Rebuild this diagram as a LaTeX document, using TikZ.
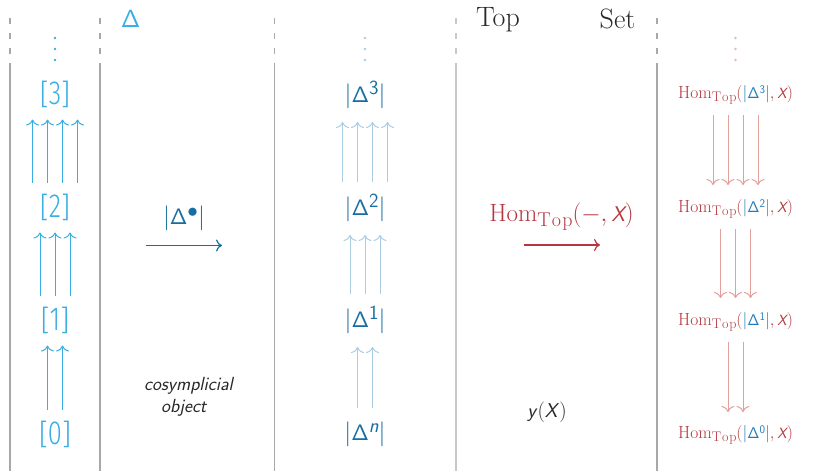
\documentclass[tikz,border=0pt]{standalone}
\usepackage{fontspec}
\usepackage{graphicx}
\usetikzlibrary{arrows.meta}

\newfontfamily\lsf{Fira Sans Light}

\definecolor{skyc}{RGB}{58,173,227}
\definecolor{deepb}{RGB}{24,110,160}
\definecolor{medb}{RGB}{36,125,185}
\definecolor{paleb}{RGB}{170,205,228}
\definecolor{homred}{RGB}{181,55,62}
\definecolor{palered}{RGB}{226,160,154}
\definecolor{dotred}{RGB}{234,182,172}
\definecolor{rulegray}{RGB}{168,168,168}
\definecolor{rulelight}{RGB}{200,200,200}
\definecolor{ink}{RGB}{40,40,40}

% sans capital Delta (Computer Modern Sans, OT1 slot 1)
\newcommand\sfDelta{{\fontencoding{OT1}\fontfamily{cmss}\selectfont\char1}}
% raised index
\newcommand\sups[1]{\raisebox{0.27em}{\scalebox{0.67}{\sffamily #1}}}
% |Delta^k|
\newcommand\absD[1]{$|$\scalebox{0.9}{\sfDelta}\sups{#1}$|$}
% [k]
\newcommand\objn[1]{{\lsf[}\scalebox{0.88}[1.15]{\lsf #1}{\lsf]}}
% Hom_Top( #1 , X )
\newcommand\homof[1]{{\rmfamily Hom}\raisebox{-0.19em}{\scalebox{0.8}{\rmfamily T\kern.06em o\kern.06em p}}$($#1$,$\,\scalebox{0.85}{\sffamily\itshape X}$)$}

\begin{document}
\begin{tikzpicture}[x=1pt,y=-1pt,
  obj/.style={inner sep=0pt, text=skyc, font=\fontsize{29}{29}\selectfont},
  real/.style={inner sep=0pt, text=deepb, font=\fontsize{30}{30}\selectfont},
  hom/.style={inner sep=0pt, text=homred, font=\fontsize{17.5}{17.5}\selectfont},
  plain/.style={inner sep=0pt, text=ink},
  face/.style={line width=1pt, -{Computer Modern Rightarrow[length=6pt,width=13pt]}},
  functor/.style={line width=1.2pt, -{Computer Modern Rightarrow[length=6pt,width=12pt]}},
  rulestyle/.style={line width=1.3pt}]
\useasboundingbox (0,0) rectangle (813,471);

% column separators: dashed head, solid body
\foreach \xx/\cc in {10/rulegray,100/rulegray,274.5/rulegray,456/rulelight,657/rulegray} {
  \draw[rulestyle, \cc, dash pattern=on 6pt off 9pt] (\xx,18) -- (\xx,56);
  \draw[rulestyle, \cc] (\xx,63) -- (\xx,471);
}

% category headings
\node[inner sep=0pt, text=skyc, font=\fontsize{30}{30}\selectfont] (hdelta) at (130.5,18.5) {\sfDelta};
\node[plain, anchor=base, font=\fontsize{28}{28}\selectfont\rmfamily] (htop) at (498,26.7) {Top};
\node[plain, anchor=base, font=\fontsize{28}{28}\selectfont\rmfamily] (hset) at (617.5,28) {Set};

% vertical ellipses
\foreach \yy in {38,49,60} {
  \fill[skyc] (55,\yy) circle (1.3);
  \fill[paleb] (365,\yy) circle (1.3);
  \fill[dotred] (735.5,\yy) circle (1.3);
}

% the simplex category
\node[obj] (o3) at (55,94) {\objn{3}};
\node[obj] (o2) at (55,207) {\objn{2}};
\node[obj] (o1) at (55,320) {\objn{1}};
\node[obj] (o0) at (55,434) {\objn{0}};
\foreach \dx in {-22.5,-7.5,7.5,22.5}
  \draw[face, skyc] ([xshift=\dx pt, yshift=24pt]o2.center) -- ([xshift=\dx pt, yshift=-25.5pt]o3.center);
\foreach \dx in {-15,0,15}
  \draw[face, skyc] ([xshift=\dx pt, yshift=24pt]o1.center) -- ([xshift=\dx pt, yshift=-25.5pt]o2.center);
\foreach \dx in {-7.5,7.5}
  \draw[face, skyc] ([xshift=\dx pt, yshift=24pt]o0.center) -- ([xshift=\dx pt, yshift=-25.5pt]o1.center);

% geometric realisation functor
\coordinate (ra) at (146,245.5);
\coordinate (rb) at (222,245.5);
\draw[functor, deepb] (ra) -- (rb);
\node[inner sep=0pt, text=deepb, font=\fontsize{23}{23}\selectfont] (rlab) at (184,218)
  {$|$\scalebox{0.9}{\sfDelta}\raisebox{0.3em}{\scalebox{0.85}{$\bullet$}}$|$};
\node[plain, font=\fontsize{19}{23}\selectfont\sffamily\itshape, align=left, anchor=north west] (cos) at (144,377)
  {cosymplicial\\[-1pt]\hspace*{17pt}object};

% topological simplices
\node[real] (t3) at (365,95) {\absD{3}};
\node[real] (t2) at (365,208) {\absD{2}};
\node[real] (t1) at (365,320) {\absD{1}};
\node[real] (tn) at (365,434) {\absD{\itshape n}};
\foreach \dx in {-22.5,-7.5,7.5,22.5}
  \draw[face, paleb] ([xshift=\dx pt, yshift=26pt]t2.center) -- ([xshift=\dx pt, yshift=-27pt]t3.center);
\foreach \dx in {-15,0,15}
  \draw[face, paleb] ([xshift=\dx pt, yshift=26pt]t1.center) -- ([xshift=\dx pt, yshift=-27pt]t2.center);
\foreach \dx in {-7.5,7.5}
  \draw[face, paleb] ([xshift=\dx pt, yshift=26pt]tn.center) -- ([xshift=\dx pt, yshift=-27pt]t1.center);

% hom functor into sets
\coordinate (ha) at (524,245);
\coordinate (hb) at (600,245);
\draw[functor, homred] (ha) -- (hb);
\node[inner sep=0pt, text=homred, font=\fontsize{25}{25}\selectfont] (hlab) at (561.5,217) {\homof{$-$}};
\node[plain, font=\fontsize{20}{20}\selectfont\sffamily] (yx) at (547,412) {\textit{y}$($\textit{X}$)$};

% simplicial set
\node[hom] (h3) at (735.5,95) {\homof{\textcolor{medb}{\absD{3}}}};
\node[hom] (h2) at (735.5,209) {\homof{\textcolor{medb}{\absD{2}}}};
\node[hom] (h1) at (735.5,322) {\homof{\textcolor{medb}{\absD{1}}}};
\node[hom] (h0) at (735.5,435) {\homof{\textcolor{medb}{\absD{0}}}};
\foreach \dx in {-22.5,-7.5,7.5,22.5}
  \draw[face, palered] ([xshift=\dx pt, yshift=-20pt]h3.center) -- ([xshift=\dx pt, yshift=24pt]h2.center);
\foreach \dx in {-15,0,15}
  \draw[face, palered] ([xshift=\dx pt, yshift=-20pt]h2.center) -- ([xshift=\dx pt, yshift=24pt]h1.center);
\foreach \dx in {-7.5,7.5}
  \draw[face, palered] ([xshift=\dx pt, yshift=-20pt]h1.center) -- ([xshift=\dx pt, yshift=23pt]h0.center);
\end{tikzpicture}
\end{document}
